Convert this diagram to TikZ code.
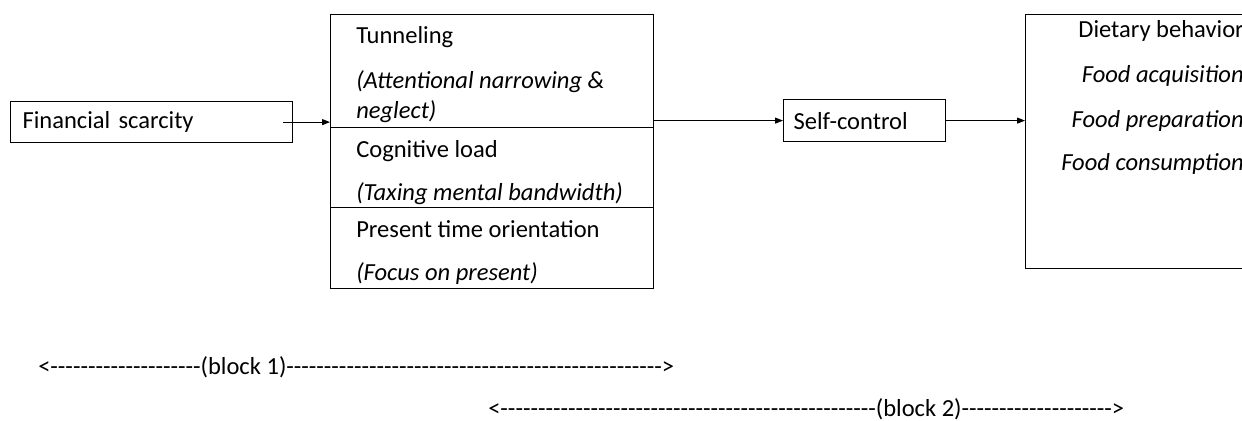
\documentclass[tikz,border=0pt]{standalone}
\usepackage{fontspec}
\setmainfont{Carlito}[Ligatures=TeXOff]
\usetikzlibrary{arrows.meta, positioning}

\newcommand{\dashrun}[1]{\foreach \k in {1,...,#1}{-}}

\begin{document}
\begin{tikzpicture}[
    x=0.75pt, y=-0.75pt,
    >={Triangle[length=6pt, width=4.5pt]},
    box/.style={rectangle, draw=black, line width=0.9pt, fill=white, inner ysep=0pt, anchor=north west, align=left, font=\fontsize{18.4}{22.4}\selectfont},
    txt/.style={inner sep=0pt, anchor=base west, font=\fontsize{18.4}{22.4}\selectfont},
    rtxt/.style={inner sep=0pt, anchor=base east, font=\fontsize{18.4}{22.4}\selectfont\itshape},
    arrow/.style={draw=black, line width=0.75pt, ->}
]
    \useasboundingbox (0,0) rectangle (1242,421);
    \clip (0,0) rectangle (1242,421);

    % Left box
    \node[box, inner xsep=9pt, text width=193.5pt, minimum height=30.75pt] (fin) at (10,101) {Financial scarcity};

    % Middle stack of three mechanisms
    \node[box, minimum width=242.25pt, minimum height=84.75pt] (tun)  at (330,14)  {};
    \node[box, minimum width=242.25pt, minimum height=60pt]    (cog)  at (330,127) {};
    \node[box, minimum width=242.25pt, minimum height=60.75pt] (pres) at (330,207) {};
    \node[txt] (tunA)  at (356,43)  {Tunneling};
    \node[txt] (tunB)  at (356,88)  {\itshape (Attentional narrowing \&};
    \node[txt] (tunC)  at (356,118) {\itshape neglect)};
    \node[txt] (cogA)  at (356,157) {Cognitive load};
    \node[txt] (cogB)  at (356,200) {\itshape (Taxing mental bandwidth)};
    \node[txt] (presA) at (356,237) {Present time orientation};
    \node[txt] (presB) at (356,280) {\itshape (Focus on present)};

    % Mediator
    \node[box, inner xsep=7.5pt, text width=106.5pt, minimum height=31.5pt] (self) at (783,99) {Self-control};

    % Outcome box (runs off the right edge)
    \node[box, minimum width=225pt, minimum height=190.5pt] (diet) at (1025,14) {};
    \node[inner sep=0pt, anchor=base east, font=\fontsize{18.4}{22.4}\selectfont] (dietA) at (1244,37) {Dietary behavior};
    \node[rtxt] (dietB) at (1244,82)  {Food acquisition};
    \node[rtxt] (dietC) at (1244,127) {Food preparation};
    \node[rtxt] (dietD) at (1244,170) {Food consumption};

    % Arrows
    \draw[arrow] ([xshift=-7.5pt]fin.east) -- (fin.east -| tun.west);
    \draw[arrow] (self.west -| tun.east) -- (self.west);
    \draw[arrow] (self.east) -- (self.east -| diet.west);

    % Block spans
    \node[txt] (blockA) at (38,374)  {<\dashrun{20}(block 1)\dashrun{50}>};
    \node[txt] (blockB) at (488,416) {<\dashrun{50}(block 2)\dashrun{20}>};
\end{tikzpicture}
\end{document}
